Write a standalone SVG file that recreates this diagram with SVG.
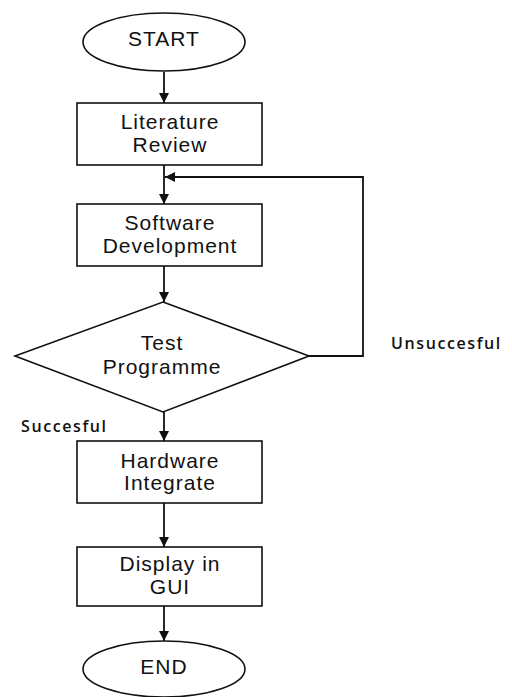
<svg xmlns="http://www.w3.org/2000/svg" width="512" height="697" viewBox="0 0 512 697">
<style>
.s{fill:#fff;stroke:#111;stroke-width:1.6}
.t{font-family:"Liberation Sans",Arial,sans-serif;font-size:21px;fill:#111;text-anchor:middle;letter-spacing:1px}
.l{font-family:"Open Sans","Noto Sans",sans-serif;font-size:16px;font-weight:600;fill:#111;letter-spacing:1.6px}
.c{fill:none;stroke:#111;stroke-width:1.8}
</style>
<defs>
<marker id="a" viewBox="0 0 10 10" refX="10" refY="5" markerWidth="10" markerHeight="10" markerUnits="userSpaceOnUse" orient="auto"><path d="M0,0L10,5L0,10z" fill="#111"/></marker>
</defs>
<g id="connectors">
<line class="c" x1="164" y1="72" x2="164" y2="103" marker-end="url(#a)"/>
<line class="c" x1="164" y1="165" x2="164" y2="204" marker-end="url(#a)"/>
<line class="c" x1="164" y1="266" x2="164" y2="302" marker-end="url(#a)"/>
<polyline class="c" points="309,356 363,356 363,177 165,177" marker-end="url(#a)"/>
<line class="c" x1="164" y1="412" x2="164" y2="441" marker-end="url(#a)"/>
<line class="c" x1="164" y1="503" x2="164" y2="547" marker-end="url(#a)"/>
<line class="c" x1="164" y1="606" x2="164" y2="641" marker-end="url(#a)"/>
<text class="l" x="21" y="432">Succesful</text>
<text class="l" x="391" y="349">Unsuccesful</text>
</g>
<g id="start"><ellipse class="s" cx="164" cy="42" rx="81" ry="29"/><text class="t" x="164" y="46">START</text></g>
<g id="literature"><rect class="s" x="77" y="103" width="185" height="62"/><text class="t" x="170" y="129">Literature</text><text class="t" x="170" y="152">Review</text></g>
<g id="software"><rect class="s" x="77" y="204" width="185" height="62"/><text class="t" x="170" y="230">Software</text><text class="t" x="170" y="253">Development</text></g>
<g id="test"><polygon class="s" points="163,302 309,356 163,412 15,356"/><text class="t" x="162" y="350">Test</text><text class="t" x="162" y="374">Programme</text></g>
<g id="hardware"><rect class="s" x="77" y="441" width="185" height="62"/><text class="t" x="170" y="468">Hardware</text><text class="t" x="170" y="490">Integrate</text></g>
<g id="display"><rect class="s" x="77" y="547" width="185" height="59"/><text class="t" x="170" y="571">Display in</text><text class="t" x="170" y="594">GUI</text></g>
<g id="end"><ellipse class="s" cx="164" cy="669" rx="81" ry="28"/><text class="t" x="164" y="674">END</text></g>
</svg>
